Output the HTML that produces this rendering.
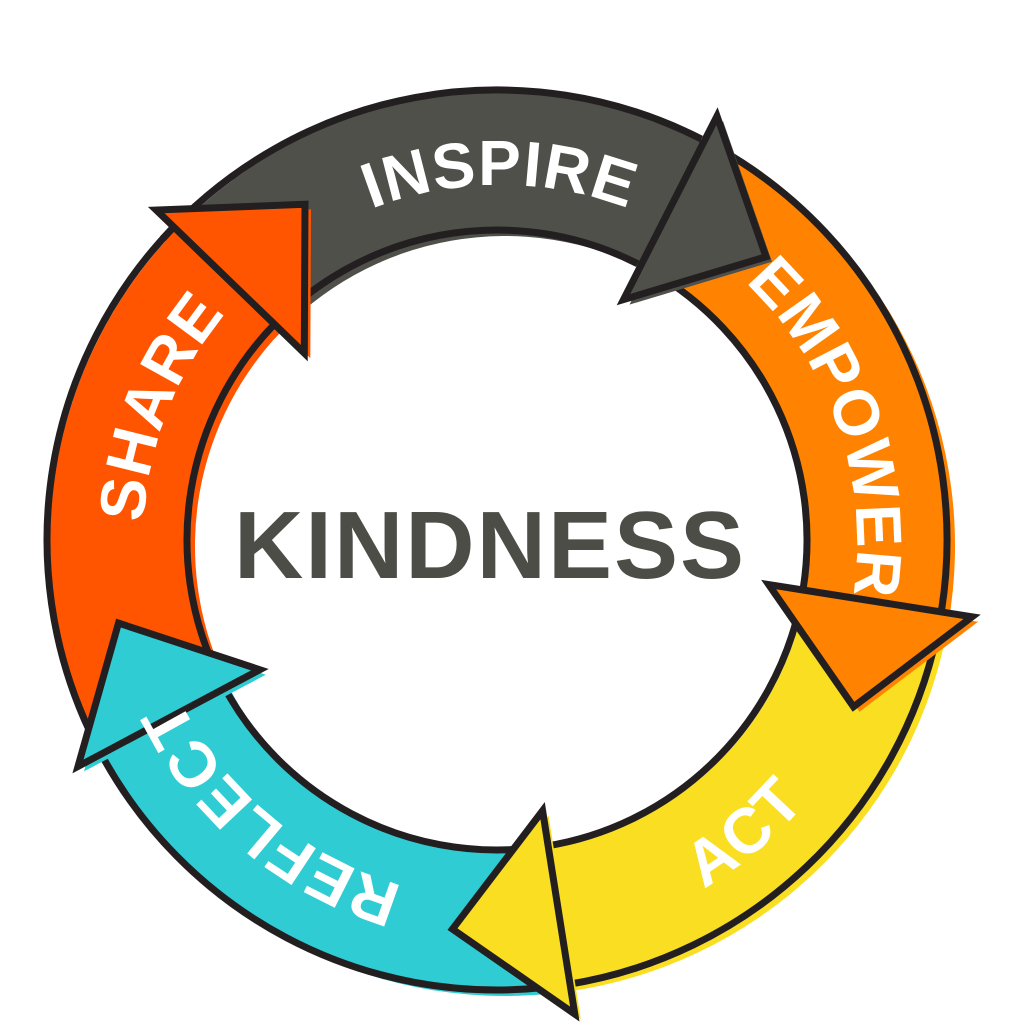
<!DOCTYPE html>
<html><head><meta charset="utf-8"><style>
html,body{margin:0;padding:0;background:#fff;}
svg{display:block}
text{font-family:"Liberation Sans",sans-serif;font-weight:bold;}
</style></head><body>
<svg id="s" width="1024" height="1024" viewBox="0 0 1024 1024" xmlns="http://www.w3.org/2000/svg">
<g id="bodies"></g>
<g id="heads"></g>
<g id="labels"></g>
<text x="490" y="578" text-anchor="middle" font-size="96" fill="#4d4d47" letter-spacing="2">KINDNESS</text>
</svg>
<script>
var cx=500,cy=542,R1=310,R2=450,HR1=272,HR2=478,RT=390;
function P(r,a){a=a*Math.PI/180;return (cx+r*Math.cos(a)).toFixed(1)+","+(cy+r*Math.sin(a)).toFixed(1);}
function arc(r,a0,a1){var lg=Math.abs(a1-a0)>180?1:0;var sw=a1>a0?1:0;return "A"+r+","+r+" 0 "+lg+" "+sw+" "+P(r,a1);}
var arrows=[
 {a0:222,tip:313,c:"#4f504a",t:"INSPIRE",ta:[245,295],cw:1},
 {a0:300,tip:385,c:"#ff8300",t:"EMPOWER",ta:[312,370],cw:1},
 {a0:372,tip:457,c:"#f9de22",t:"ACT",ta:[425,395],cw:0},
 {a0:444,tip:528,c:"#2fcdd3",t:"REFLECT",ta:[465,515],cw:1},
 {a0:515,tip:600,c:"#ff5500",t:"SHARE",ta:[535,588],cw:1}
];
var ns="http://www.w3.org/2000/svg";
function el(n,at,par){var e=document.createElementNS(ns,n);for(var k in at)e.setAttribute(k,at[k]);document.getElementById(par).appendChild(e);return e;}
arrows.forEach(function(A,i){
 var h=A.tip-16;
 var body="M"+P(R2,A.a0)+arc(R2,A.a0,h+1)+"L"+P(R1,h+1)+arc(R1,h+1,A.a0)+"Z";
 el("path",{d:body,fill:A.c,transform:"translate(5,4)"},"bodies");
 el("path",{d:body,fill:A.c},"bodies");
 var bo="M"+P(R2,A.a0)+arc(R2,A.a0,h)+" M"+P(R1,h)+arc(R1,h,A.a0);
 el("path",{d:bo,fill:"none",stroke:"#231f20","stroke-width":7,transform:"translate(-3,-2)"},"bodies");
 var head="M"+P(R2,h)+"L"+P(HR2,h)+"L"+P(RT,A.tip)+"L"+P(HR1,h)+"L"+P(R1,h)+"Z";
 el("path",{d:head,fill:A.c,transform:"translate(6,5)"},"heads");
 el("path",{d:head,fill:A.c,stroke:"#231f20","stroke-width":7,"stroke-linejoin":"miter"},"heads");
 var id="tp"+i,d;
 if(A.cw){d="M"+P(357,A.ta[0])+arc(357,A.ta[0],A.ta[1]);}
 else{d="M"+P(402,A.ta[0])+arc(402,A.ta[0],A.ta[1]);}
 el("path",{id:id,d:d,fill:"none"},"labels");
 var t=el("text",{"font-size":"64",fill:"#fff","letter-spacing":"1"},"labels");
 var tp=document.createElementNS(ns,"textPath");
 tp.setAttribute("href","#"+id);tp.setAttribute("startOffset","50%");tp.setAttribute("text-anchor","middle");
 tp.textContent=A.t;t.appendChild(tp);
});
</script>
</body></html>
